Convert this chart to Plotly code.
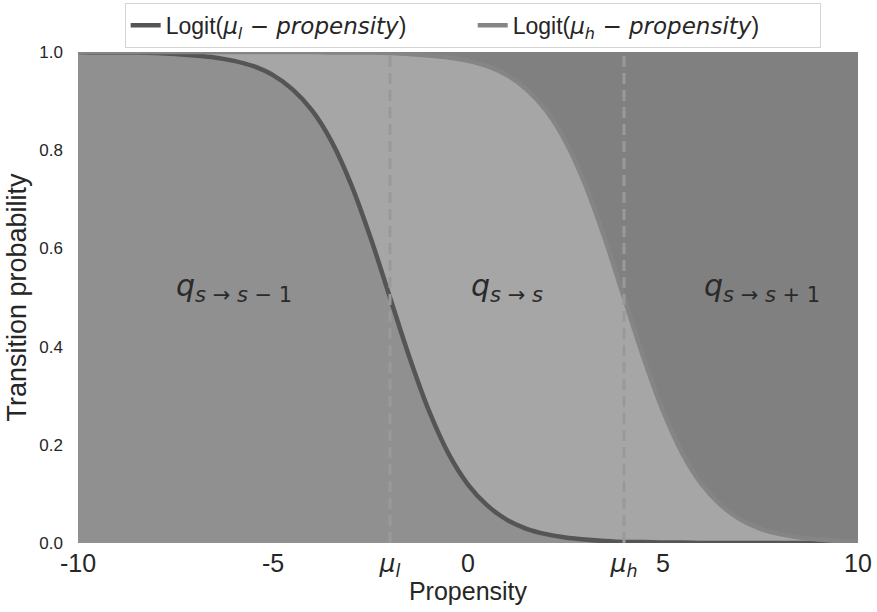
import plotly.graph_objects as go

# Propensity grid and curve readings
propensity = [-10, -9.5, -9, -8.5, -8, -7.5, -7, -6.5, -6, -5.5, -5, -4.5, -4, -3.5, -3, -2.5,
              -2, -1.5, -1, -0.5, 0, 0.5, 1, 1.5, 2, 2.5, 3, 3.5, 4, 4.5, 5, 5.5, 6, 6.5,
              7, 7.5, 8, 8.5, 9, 9.5, 10]
logit_low = [1.000, 0.999, 0.999, 0.999, 0.998, 0.996, 0.993, 0.989, 0.982, 0.971, 0.953,
             0.924, 0.881, 0.818, 0.731, 0.622, 0.500, 0.378, 0.269, 0.182, 0.119, 0.076,
             0.047, 0.029, 0.018, 0.011, 0.007, 0.004, 0.002, 0.002, 0.001, 0.001, 0.000,
             0.000, 0.000, 0.000, 0.000, 0.000, 0.000, 0.000, 0.000]
logit_high = [1.000, 1.000, 1.000, 1.000, 1.000, 1.000, 1.000, 1.000, 1.000, 1.000, 1.000,
              1.000, 1.000, 0.999, 0.999, 0.999, 0.998, 0.996, 0.993, 0.989, 0.982, 0.971,
              0.953, 0.924, 0.881, 0.818, 0.731, 0.622, 0.500, 0.378, 0.269, 0.182, 0.119,
              0.076, 0.047, 0.029, 0.018, 0.011, 0.007, 0.004, 0.002]
mu_low = -2
mu_high = 4
tick_vals = [-10, -5, mu_low, 0, mu_high, 5, 10]
DV = '<span style="font-family:DejaVu Sans">'
tick_text = ["-10", "-5", DV + "<i>μ<sub>l</sub></i></span>", "0",
             DV + "<i>μ<sub>h</sub></i></span>", "5", "10"]
region_labels = ["<i>q</i><sub><i>s</i> → <i>s</i> − 1</sub>",
                 "<i>q</i><sub><i>s</i> → <i>s</i></sub>",
                 "<i>q</i><sub><i>s</i> → <i>s</i> + 1</sub>"]
region_x = [-6, 1.0, 7.55]
region_y = [0.52, 0.52, 0.52]
series_names = ["Logit(" + DV + "<i>μ<sub>l</sub></i> − <i>propensity</i></span>)",
                "Logit(" + DV + "<i>μ<sub>h</sub></i> − <i>propensity</i></span>)"]

fig = go.Figure()
# fills
fig.add_trace(go.Scatter(x=propensity, y=logit_low, mode="lines", line=dict(width=0, shape="spline"),
                         fill="tozeroy", fillcolor="#909090", showlegend=False, hoverinfo="skip"))
fig.add_trace(go.Scatter(x=propensity, y=logit_high, mode="lines", line=dict(width=0, shape="spline"),
                         fill="tonexty", fillcolor="#a6a6a6", showlegend=False, hoverinfo="skip"))
# lines
fig.add_trace(go.Scatter(x=propensity, y=logit_low, mode="lines", name=series_names[0],
                         line=dict(color="#555555", width=4.5, shape="spline")))
fig.add_trace(go.Scatter(x=propensity, y=logit_high, mode="lines", name=series_names[1],
                         line=dict(color="#858585", width=4.5, shape="spline")))

for mu in [mu_low, mu_high]:
    fig.add_shape(type="line", x0=mu, x1=mu, y0=0, y1=1, xref="x", yref="y",
                  line=dict(color="#999999", width=3, dash="11px,6px"), layer="above")

for txt, xx, yy in zip(region_labels, region_x, region_y):
    fig.add_annotation(x=xx, y=yy, text=txt, showarrow=False,
                       font=dict(family="DejaVu Sans", size=30, color="#2a2a2a"))

fig.update_layout(
    width=877, height=612,
    margin=dict(l=78, r=19, t=52, b=69, autoexpand=False),
    paper_bgcolor="white", plot_bgcolor="#808080",
    font=dict(family="Liberation Sans", color="#262626"),
    legend=dict(orientation="h", x=0.506, xanchor="center", y=1.1, yanchor="top",
                bordercolor="#d5d5d5", borderwidth=1, bgcolor="white", traceorder="normal",
                font=dict(size=23, color="#262626"), entrywidth=302, entrywidthmode="pixels"),
    xaxis=dict(range=[-10, 10], tickvals=tick_vals, ticktext=tick_text, showgrid=False,
               zeroline=False, showline=False, tickfont=dict(size=25), ticklabelstandoff=3,
               title=dict(text="Propensity", font=dict(size=25), standoff=0)),
    yaxis=dict(range=[0, 1], tickvals=[0, 0.2, 0.4, 0.6, 0.8, 1.0],
               ticktext=["0.0", "0.2", "0.4", "0.6", "0.8", "1.0"], showgrid=False,
               zeroline=False, showline=False, tickfont=dict(size=17), ticklabelstandoff=14,
               title=dict(text="Transition probability", font=dict(size=27), standoff=4)),
)

fig.write_html("out.html")
